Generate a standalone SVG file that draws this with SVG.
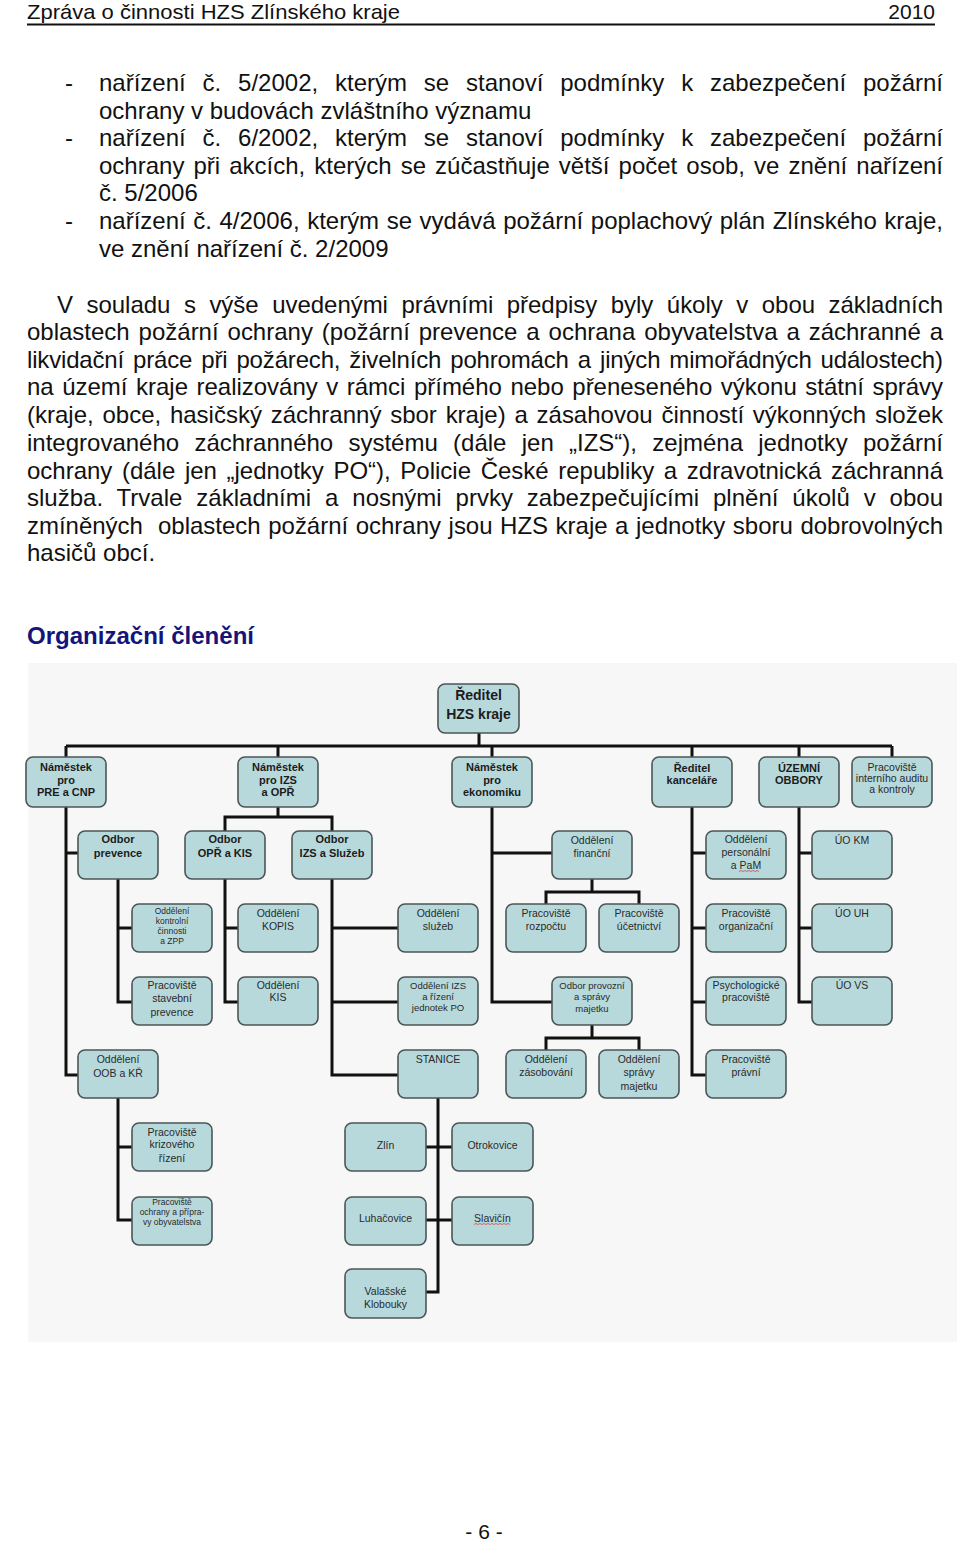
<svg xmlns="http://www.w3.org/2000/svg" width="960" height="1541" viewBox="0 0 960 1541">
<style>
.t{font-family:"Liberation Sans",Arial,sans-serif;font-size:24px;fill:#111}
.h{font-family:"Liberation Sans",Arial,sans-serif;font-size:21px;fill:#111}
.hd{font-family:"Liberation Sans",Arial,sans-serif;font-size:23px;font-weight:bold;fill:#14147a}
.box{fill:#b8d9dc;stroke:#4b5555;stroke-width:1.6}
.b{font-family:"Liberation Sans",Arial,sans-serif;font-size:11px;font-weight:bold;fill:#1c1c1c;text-anchor:middle}
.bb{font-family:"Liberation Sans",Arial,sans-serif;font-size:14px;font-weight:bold;fill:#1c1c1c;text-anchor:middle}
.r{font-family:"Liberation Sans",Arial,sans-serif;font-size:10.5px;fill:#2a2a2a;text-anchor:middle}
.rs{font-family:"Liberation Sans",Arial,sans-serif;font-size:9.5px;fill:#2a2a2a;text-anchor:middle}
.rx{font-family:"Liberation Sans",Arial,sans-serif;font-size:8.5px;fill:#2a2a2a;text-anchor:middle}
.ln{fill:none;stroke:#111;stroke-width:3}
.sq{fill:none;stroke:#d04a4a;stroke-width:0.8}
</style>
<rect width="960" height="1541" fill="#fff"/>
<!-- header -->
<text class="h" x="27" y="19" textLength="373" lengthAdjust="spacingAndGlyphs">Zpráva o činnosti HZS Zlínského kraje</text>
<text class="h" x="935" y="19" text-anchor="end">2010</text>
<line x1="27" y1="24.5" x2="935" y2="24.5" stroke="#111" stroke-width="2"/>
<!-- bullets -->
<g id="bullets">
<text class="t" x="65" y="91">-</text>
<text class="t" x="99" y="91" word-spacing="10.2" textLength="844" lengthAdjust="spacing">nařízení č. 5/2002, kterým se stanoví podmínky k zabezpečení požární</text>
<text class="t" x="99" y="119">ochrany v budovách zvláštního významu</text>
<text class="t" x="65" y="146">-</text>
<text class="t" x="99" y="146" word-spacing="10.2" textLength="844" lengthAdjust="spacing">nařízení č. 6/2002, kterým se stanoví podmínky k zabezpečení požární</text>
<text class="t" x="99" y="174" word-spacing="2.4" textLength="844" lengthAdjust="spacing">ochrany při akcích, kterých se zúčastňuje větší počet osob, ve znění nařízení</text>
<text class="t" x="99" y="201">č. 5/2006</text>
<text class="t" x="65" y="229">-</text>
<text class="t" x="99" y="229" word-spacing="0.9" textLength="844" lengthAdjust="spacing">nařízení č. 4/2006, kterým se vydává požární poplachový plán Zlínského kraje,</text>
<text class="t" x="99" y="257">ve znění nařízení č. 2/2009</text>
</g>
<g id="paragraph">
<text class="t" x="57" y="313" word-spacing="6.9" textLength="886" lengthAdjust="spacing">V souladu s výše uvedenými právními předpisy byly úkoly v obou základních</text>
<text class="t" x="27" y="340" word-spacing="2.25" textLength="916" lengthAdjust="spacing">oblastech požární ochrany (požární prevence a ochrana obyvatelstva a záchranné a</text>
<text class="t" x="27" y="368" word-spacing="2.5" textLength="916" lengthAdjust="spacing">likvidační práce při požárech, živelních pohromách a jiných mimořádných událostech)</text>
<text class="t" x="27" y="395" word-spacing="1.9" textLength="916" lengthAdjust="spacing">na území kraje realizovány v rámci přímého nebo přeneseného výkonu státní správy</text>
<text class="t" x="27" y="423" word-spacing="2.1" textLength="916" lengthAdjust="spacing">(kraje, obce, hasičský záchranný sbor kraje) a zásahovou činností výkonných složek</text>
<text class="t" x="27" y="451" word-spacing="8.6" textLength="916" lengthAdjust="spacing">integrovaného záchranného systému (dále jen „IZS“), zejména jednotky požární</text>
<text class="t" x="27" y="479" word-spacing="3.0" textLength="916" lengthAdjust="spacing">ochrany (dále jen „jednotky PO“), Policie České republiky a zdravotnická záchranná</text>
<text class="t" x="27" y="506" word-spacing="7.2" textLength="916" lengthAdjust="spacing">služba. Trvale základními a nosnými prvky zabezpečujícími plnění úkolů v obou</text>
<text class="t" x="27" y="534" xml:space="preserve" word-spacing="0.9" textLength="916" lengthAdjust="spacing">zmíněných  oblastech požární ochrany jsou HZS kraje a jednotky sboru dobrovolných</text>
<text class="t" x="27" y="561">hasičů obcí.</text>
</g>
<text class="hd" x="27" y="644" textLength="227" lengthAdjust="spacingAndGlyphs">Organizační členění</text>
<text class="h" x="484" y="1539" text-anchor="middle">- 6 -</text>
<!-- chart background -->
<rect x="28" y="663" width="929" height="679" fill="#f7f7f7"/>
<g id="connectors">
<path class="ln" d="M479 733V746M66 746H892M66 746V757M278 746V757M492 746V757M692 746V757M799 746V757M892 746V757"/>
<path class="ln" d="M66 807V1075H78M66 853H78"/>
<path class="ln" d="M278 807V817M225 831V817H332V831"/>
<path class="ln" d="M118 879V1002H132M118 928H132"/>
<path class="ln" d="M225 879V1002H238M225 928H238"/>
<path class="ln" d="M332 879V1075H398M332 928H398M332 1002H398"/>
<path class="ln" d="M118 1098V1220H132M118 1147H132"/>
<path class="ln" d="M438 1098V1292H426M426 1147H452M426 1220H452"/>
<path class="ln" d="M492 807V1002H552M492 853H552"/>
<path class="ln" d="M592 879V892M546 904V892H639V904"/>
<path class="ln" d="M592 1025V1038M546 1050V1038H639V1050"/>
<path class="ln" d="M692 807V1075H706M692 853H706M692 928H706M692 1002H706"/>
<path class="ln" d="M799 807V1002H812M799 853H812M799 928H812"/>
</g>
<g id="reditel"><rect class="box" x="438" y="684" width="81" height="49" rx="7"/><text class="bb" x="478.5" y="700">Ředitel</text><text class="bb" x="478.5" y="719">HZS kraje</text></g>
<g id="nam-pre"><rect class="box" x="26" y="757" width="80" height="50" rx="7"/><text class="b" x="66" y="771">Náměstek</text><text class="b" x="66" y="784">pro</text><text class="b" x="66" y="796">PRE a CNP</text></g>
<g id="nam-izs"><rect class="box" x="238" y="757" width="80" height="50" rx="7"/><text class="b" x="278" y="771">Náměstek</text><text class="b" x="278" y="784">pro IZS</text><text class="b" x="278" y="796">a OPŘ</text></g>
<g id="nam-eko"><rect class="box" x="452" y="757" width="80" height="50" rx="7"/><text class="b" x="492" y="771">Náměstek</text><text class="b" x="492" y="784">pro</text><text class="b" x="492" y="796">ekonomiku</text></g>
<g id="red-kanc"><rect class="box" x="652" y="757" width="80" height="50" rx="7"/><text class="b" x="692" y="772">Ředitel</text><text class="b" x="692" y="784">kanceláře</text></g>
<g id="uzemni"><rect class="box" x="759" y="757" width="80" height="50" rx="7"/><text class="b" x="799" y="772">ÚZEMNÍ</text><text class="b" x="799" y="784">OBBORY</text></g>
<g id="audit"><rect class="box" x="852" y="757" width="80" height="50" rx="7"/><text class="r" x="892" y="770.5">Pracoviště</text><text class="r" x="892" y="781.5">interního auditu</text><text class="r" x="892" y="792.5">a kontroly</text></g>
<g id="odb-prev"><rect class="box" x="78" y="831" width="80" height="48" rx="7"/><text class="b" x="118" y="843">Odbor</text><text class="b" x="118" y="857">prevence</text></g>
<g id="odb-opr"><rect class="box" x="185" y="831" width="80" height="48" rx="7"/><text class="b" x="225" y="843">Odbor</text><text class="b" x="225" y="857">OPŘ a KIS</text></g>
<g id="odb-izs"><rect class="box" x="292" y="831" width="80" height="48" rx="7"/><text class="b" x="332" y="843">Odbor</text><text class="b" x="332" y="857">IZS a Služeb</text></g>
<g id="odd-fin"><rect class="box" x="552" y="831" width="80" height="48" rx="7"/><text class="r" x="592" y="844">Oddělení</text><text class="r" x="592" y="857">finanční</text></g>
<g id="odd-pers"><rect class="box" x="706" y="831" width="80" height="48" rx="7"/><text class="r" x="746" y="843">Oddělení</text><text class="r" x="746" y="856">personální</text><text class="r" x="746" y="869">a PaM</text><path class="sq" d="M739 871.5l2 -1 2 1 2 -1 2 1 2 -1 2 1 2 -1 2 1 2 -1 2 1"/></g>
<g id="uo-km"><rect class="box" x="812" y="831" width="80" height="48" rx="7"/><text class="r" x="852" y="844">ÚO KM</text></g>
<g id="odd-kontr"><rect class="box" x="132" y="904" width="80" height="48" rx="7"/><text class="rx" x="172" y="914">Oddělení</text><text class="rx" x="172" y="924">kontrolní</text><text class="rx" x="172" y="934">činnosti</text><text class="rx" x="172" y="944">a ZPP</text></g>
<g id="odd-kopis"><rect class="box" x="238" y="904" width="80" height="48" rx="7"/><text class="r" x="278" y="917">Oddělení</text><text class="r" x="278" y="930">KOPIS</text></g>
<g id="odd-sluz"><rect class="box" x="398" y="904" width="80" height="48" rx="7"/><text class="r" x="438" y="917">Oddělení</text><text class="r" x="438" y="930">služeb</text></g>
<g id="prac-rozp"><rect class="box" x="506" y="904" width="80" height="48" rx="7"/><text class="r" x="546" y="917">Pracoviště</text><text class="r" x="546" y="930">rozpočtu</text></g>
<g id="prac-ucet"><rect class="box" x="599" y="904" width="80" height="48" rx="7"/><text class="r" x="639" y="917">Pracoviště</text><text class="r" x="639" y="930">účetnictví</text></g>
<g id="prac-org"><rect class="box" x="706" y="904" width="80" height="48" rx="7"/><text class="r" x="746" y="917">Pracoviště</text><text class="r" x="746" y="930">organizační</text></g>
<g id="uo-uh"><rect class="box" x="812" y="904" width="80" height="48" rx="7"/><text class="r" x="852" y="917">ÚO UH</text></g>
<g id="prac-stav"><rect class="box" x="132" y="977" width="80" height="48" rx="7"/><text class="r" x="172" y="989">Pracoviště</text><text class="r" x="172" y="1002">stavební</text><text class="r" x="172" y="1016">prevence</text></g>
<g id="odd-kis"><rect class="box" x="238" y="977" width="80" height="48" rx="7"/><text class="r" x="278" y="989">Oddělení</text><text class="r" x="278" y="1001">KIS</text></g>
<g id="odd-izsr"><rect class="box" x="398" y="977" width="80" height="48" rx="7"/><text class="rs" x="438" y="988.5">Oddělení IZS</text><text class="rs" x="438" y="999.5">a řízení</text><text class="rs" x="438" y="1010.5">jednotek PO</text></g>
<g id="odb-prov"><rect class="box" x="552" y="977" width="80" height="48" rx="7"/><text class="rs" x="592" y="988.5">Odbor provozní</text><text class="rs" x="592" y="999.5">a správy</text><text class="rs" x="592" y="1011.5">majetku</text></g>
<g id="psych"><rect class="box" x="706" y="977" width="80" height="48" rx="7"/><text class="r" x="746" y="989">Psychologické</text><text class="r" x="746" y="1001">pracoviště</text></g>
<g id="uo-vs"><rect class="box" x="812" y="977" width="80" height="48" rx="7"/><text class="r" x="852" y="989">ÚO VS</text></g>
<g id="odd-oob"><rect class="box" x="78" y="1050" width="80" height="48" rx="7"/><text class="r" x="118" y="1063">Oddělení</text><text class="r" x="118" y="1077">OOB a KŘ</text></g>
<g id="stanice"><rect class="box" x="398" y="1050" width="80" height="48" rx="7"/><text class="r" x="438" y="1063">STANICE</text></g>
<g id="odd-zas"><rect class="box" x="506" y="1050" width="80" height="48" rx="7"/><text class="r" x="546" y="1063">Oddělení</text><text class="r" x="546" y="1076">zásobování</text></g>
<g id="odd-spr"><rect class="box" x="599" y="1050" width="80" height="48" rx="7"/><text class="r" x="639" y="1063">Oddělení</text><text class="r" x="639" y="1076">správy</text><text class="r" x="639" y="1090">majetku</text></g>
<g id="prac-prav"><rect class="box" x="706" y="1050" width="80" height="48" rx="7"/><text class="r" x="746" y="1063">Pracoviště</text><text class="r" x="746" y="1076">právní</text></g>
<g id="prac-kriz"><rect class="box" x="132" y="1123" width="80" height="48" rx="7"/><text class="r" x="172" y="1136">Pracoviště</text><text class="r" x="172" y="1148">krizového</text><text class="r" x="172" y="1162">řízení</text></g>
<g id="zlin"><rect class="box" x="345" y="1123" width="81" height="48" rx="7"/><text class="r" x="385.5" y="1149">Zlín</text></g>
<g id="otrokovice"><rect class="box" x="452" y="1123" width="81" height="48" rx="7"/><text class="r" x="492.5" y="1149">Otrokovice</text></g>
<g id="prac-ochr"><rect class="box" x="132" y="1197" width="80" height="48" rx="7"/><text class="rx" x="172" y="1205">Pracoviště</text><text class="rx" x="172" y="1215">ochrany a přípra-</text><text class="rx" x="172" y="1225">vy obyvatelstva</text></g>
<g id="luhacovice"><rect class="box" x="345" y="1197" width="81" height="48" rx="7"/><text class="r" x="385.5" y="1222">Luhačovice</text></g>
<g id="slavicin"><rect class="box" x="452" y="1197" width="81" height="48" rx="7"/><text class="r" x="492.5" y="1222">Slavičín</text><path class="sq" d="M474 1224.5l2 -1 2 1 2 -1 2 1 2 -1 2 1 2 -1 2 1 2 -1 2 1 2 -1 2 1 2 -1 2 1 2 -1 2 1 2 -1 2 1"/></g>
<g id="val-klobouky"><rect class="box" x="345" y="1269" width="81" height="49" rx="7"/><text class="r" x="385.5" y="1295">Valašské</text><text class="r" x="385.5" y="1308">Klobouky</text></g>
</svg>
